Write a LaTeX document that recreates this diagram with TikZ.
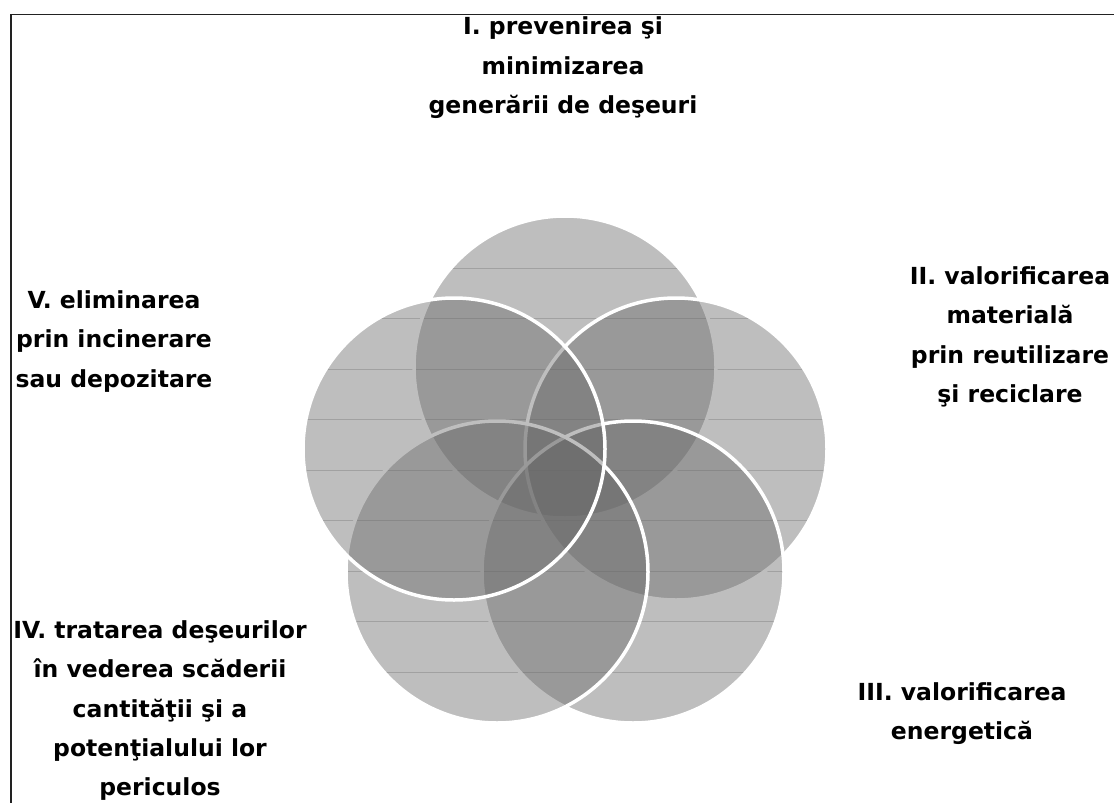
\documentclass[tikz,border=0pt]{standalone}
\usepackage{xcolor}
\usepackage{fontspec}
\usepackage{tikz}
\setmainfont{DejaVu Sans}
\usetikzlibrary{positioning,calc}
\definecolor{vennfill}{gray}{0.4}
\definecolor{bandline}{gray}{0.8}
\definecolor{framegray}{HTML}{222222}

\begin{document}
\begin{tikzpicture}[x=1pt, y=-1pt,
        venn/.style={circle, minimum size=302pt, inner sep=0pt, outer sep=0pt,
            fill=vennfill, fill opacity=0.42, draw=white, line width=3.5pt},
        stagelabel/.style={anchor=north, align=center, inner sep=0pt,
            font=\fontsize{23.5}{39.5}\selectfont\bfseries}]
        \useasboundingbox (0,0) rectangle (1114,803);
        \fill[white] (0,0) rectangle (1114,803);

        % Frame
        \draw[line width=1.5pt, framegray] (11,803) |- (1114,14.5);

        % Bands inside the circles
        \begin{scope}
            \clip (565,367) circle[radius=151pt] (676,449) circle[radius=151pt]
                (633,572) circle[radius=151pt] (497,572) circle[radius=151pt]
                (454,449) circle[radius=151pt];
            \foreach \k in {0,...,8}
                \draw[bandline, line width=1pt] (290,268+50.5*\k) -- (840,268+50.5*\k);
        \end{scope}

        % Circles
        \node[venn] (prevent) at (565,367) {};
        \node[venn] (recycle) at (676,449) {};
        \node[venn] (energy) at (633,572) {};
        \node[venn] (treat) at (497,572) {};
        \node[venn] (dispose) at (454,449) {};

        % Labels
        \node[stagelabel] (preventlbl) at (563,16.5) {I. prevenirea şi\\minimizarea\\generării de deşeuri};
        \node[stagelabel] (recyclelbl) at (1010,266) {II. valorificarea\\materială\\prin reutilizare\\şi reciclare};
        \node[stagelabel] (energylbl) at (962,682) {III. valorificarea\\energetică};
        \node[stagelabel, font=\fontsize{23.5}{39.3}\selectfont\bfseries] (treatlbl) at (160,620.5) {IV. tratarea deşeurilor\\în vederea scăderii\\cantităţii şi a\\potenţialului lor\\periculos};
        \node[stagelabel] (disposelbl) at (114,290) {V. eliminarea\\prin incinerare\\sau depozitare};
    \end{tikzpicture}
\end{document}
